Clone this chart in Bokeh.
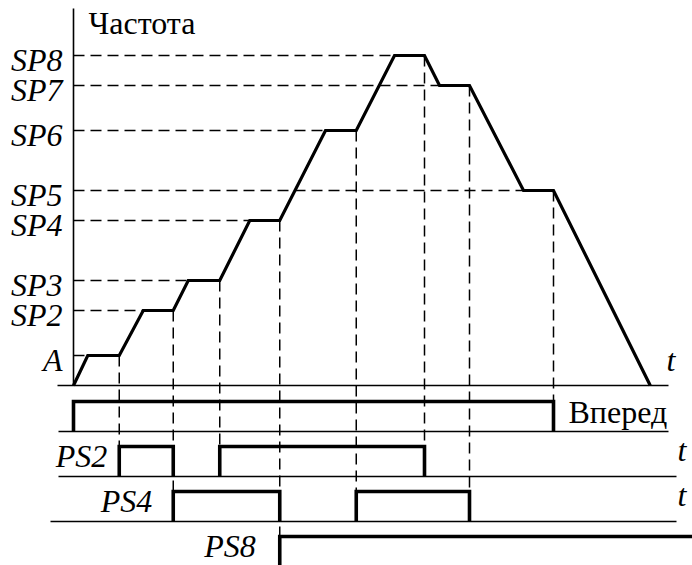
from bokeh.plotting import figure
from bokeh.models import Range1d
from bokeh.embed import file_html
from bokeh.resources import INLINE
from bokeh.core.properties import value

# ---------------- data ----------------
level_names = ["A", "SP2", "SP3", "SP4", "SP5", "SP6", "SP7", "SP8"]
level_values = [2, 5, 7, 11, 13, 17, 20, 22]

# frequency profile (time, frequency)
t_pts = [0.0, 1.9, 6.1, 9.3, 13.3, 15.3, 19.5, 23.5, 27.5, 33.6, 37.7,
         42.8, 46.8, 48.8, 52.8, 60.0, 64.0, 76.9]
f_pts = [0, 2, 2, 5, 5, 7, 7, 11, 11, 17, 17, 22, 22, 20, 20, 13, 13, 0]

# digital signals (on / off times)
signal_names = ["Вперед", "PS2", "PS4", "PS8"]
signal_on = [[0.0], [6.1, 19.5], [13.3, 37.7], [27.5]]
signal_off = [[64.0], [13.3, 46.8], [27.5, 52.8], [None]]

# ---------------- layout (pixels) ----------------
PX_T = 7.5      # pixels per time unit
PX_F = 15.0     # pixels per frequency unit
X0, Y0 = 73, 385  # screen position of origin
W, H = 692, 565
MARGIN = 0
FIX = -11       # baseline correction for text placement
FS = "32px"

def tx(px):  # screen x -> data t
    return (px - X0) / PX_T

def fy(py):  # screen y -> data f
    return (Y0 - py) / PX_F

row_base_px = [431, 476, 521, 566]
row_base = [fy(v) for v in row_base_px]
pulse_h = 30 / PX_F
row_line_x = [(58, 668), (58, 676), (50, 676), None]

serif = value("Liberation Serif")

p = figure(width=W, height=H, output_backend="svg", toolbar_location=None,
           x_range=Range1d(tx(MARGIN), tx(MARGIN + W)),
           y_range=Range1d(fy(MARGIN + H), fy(MARGIN)),
           min_border=0, outline_line_color=None)
p.axis.visible = False
p.grid.visible = False
p.background_fill_color = "white"
p.border_fill_color = "white"

# vertical frequency axis
p.segment(x0=[0], y0=[0], x1=[0], y1=[fy(8)], line_color="black", line_width=1.6)
# frequency time base
p.segment(x0=[tx(57)], y0=[0], x1=[tx(668)], y1=[0], line_color="black", line_width=1.6)
# signal base lines
for k, rl in enumerate(row_line_x):
    if rl is None:
        continue
    p.segment(x0=[tx(rl[0])], y0=[row_base[k]], x1=[tx(rl[1])], y1=[row_base[k]],
              line_color="black", line_width=1.6)

# horizontal dashed guides: from axis to where each level is reached
hx0, hx1, hy = [], [], []
for lvl in level_values:
    for i in range(len(f_pts) - 1):
        if f_pts[i] == lvl and f_pts[i + 1] == lvl:
            hx0.append(0.0); hx1.append(t_pts[i]); hy.append(lvl)
            break
p.segment(x0=hx0, y0=hy, x1=hx1, y1=hy, line_color="black", line_width=1.5,
          line_dash="11 6")

# vertical dashed guides: end of each hold down to the switching signal
vx, vy0, vy1 = [], [], []
for i in range(len(f_pts) - 1):
    if f_pts[i] == f_pts[i + 1] and f_pts[i] > 0:
        t_end = t_pts[i + 1]
        lowest = None
        for k in range(len(signal_names)):
            edges = [e for e in signal_on[k] + signal_off[k] if e is not None]
            if any(abs(e - t_end) < 1e-6 for e in edges):
                lowest = k
        if lowest is not None:
            vx.append(t_end); vy0.append(f_pts[i]); vy1.append(row_base[lowest] + pulse_h)
p.segment(x0=vx, y0=vy0, x1=vx, y1=vy1, line_color="black", line_width=1.5,
          line_dash="11 6")

# frequency curve
p.line(t_pts, f_pts, line_color="black", line_width=3.2, line_join="miter")

# pulses
xs, ys = [], []
for k in range(len(signal_names)):
    b = row_base[k]
    for on, off in zip(signal_on[k], signal_off[k]):
        if off is None:
            xs.append([on, on, tx(MARGIN + W + 10)])
            ys.append([b, b + pulse_h, b + pulse_h])
        else:
            xs.append([on, on, off, off])
            ys.append([b, b + pulse_h, b + pulse_h, b])
p.multi_line(xs, ys, line_color="black", line_width=3.6, line_join="miter")

# level labels
p.text(x=[0.0] * len(level_values), y=level_values, text=level_names,
       x_offset=-11, y_offset=15 + FIX, text_align="right", text_baseline="alphabetic",
       text_font=serif, text_font_style="italic", text_font_size=FS,
       text_color="black")

# title on axis
p.text(x=[0.0], y=[fy(8)], text=["Частота"], x_offset=15, y_offset=25 + FIX,
       text_align="left", text_baseline="alphabetic", text_font=serif,
       text_font_size=FS, text_color="black")

# "Вперед" label
p.text(x=[signal_off[0][0]], y=[row_base[0]], text=[signal_names[0]], x_offset=15,
       y_offset=-9 + FIX, text_align="left", text_baseline="alphabetic", text_font=serif,
       text_font_size=FS, text_color="black")

# PS labels
ps_off = [-12, -21, -24]
for j, k in enumerate([1, 2, 3]):
    p.text(x=[signal_on[k][0]], y=[row_base[k]], text=[signal_names[k]],
           x_offset=ps_off[j], y_offset=-10 + FIX, text_align="right",
           text_baseline="alphabetic", text_font=serif, text_font_style="italic",
           text_font_size=FS, text_color="black")

# t labels
p.text(x=[tx(668), tx(676), tx(676)], y=[0.0, row_base[1], row_base[2]],
       text=["t", "t", "t"], x_offset=[-2, 1, 1], y_offset=[-15 + FIX, -16 + FIX, -16 + FIX],
       text_align="left", text_baseline="alphabetic", text_font=serif,
       text_font_style="italic", text_font_size=FS, text_color="black")

open("out.html", "w").write(file_html(p, INLINE))
